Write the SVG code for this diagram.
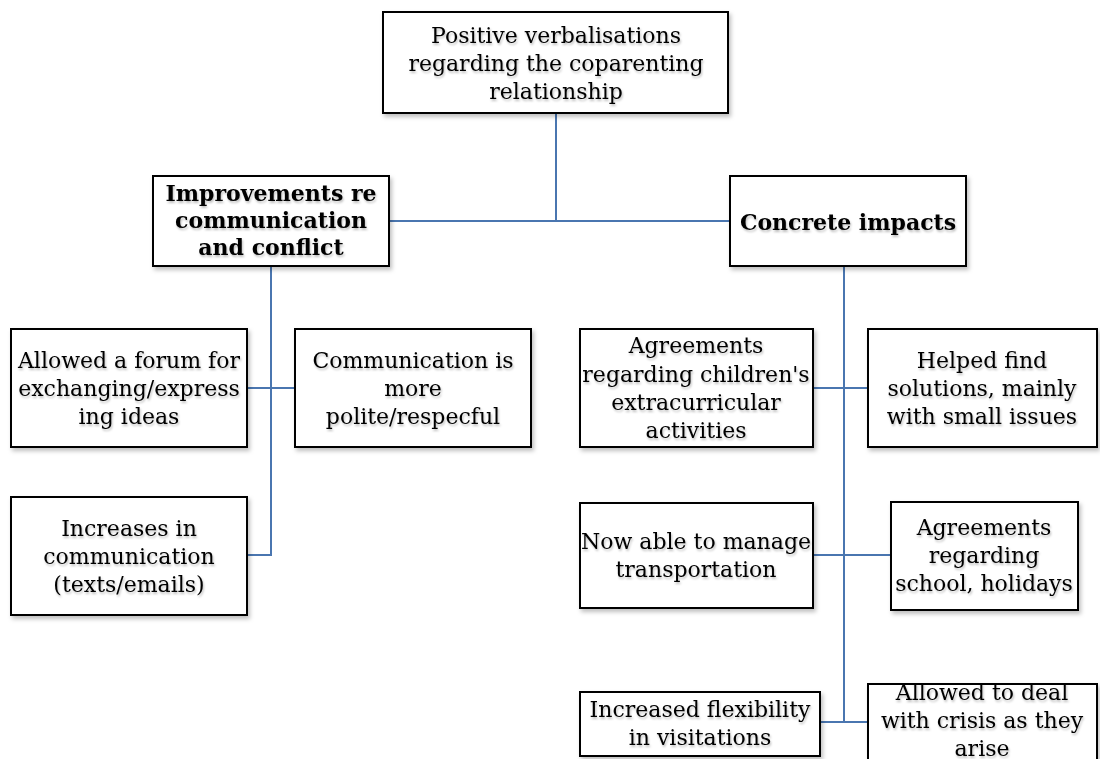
<svg xmlns="http://www.w3.org/2000/svg" width="1100" height="759" viewBox="0 0 1100 759">
<defs>
<filter id="bs" x="-10%" y="-10%" width="130%" height="130%"><feDropShadow dx="2" dy="3" stdDeviation="2" flood-color="#000" flood-opacity="0.25"/></filter>
<filter id="ts" x="-5%" y="-20%" width="115%" height="160%"><feDropShadow dx="1" dy="2" stdDeviation="1.2" flood-color="#000" flood-opacity="0.25"/></filter>
</defs>
<style>
.box{fill:#fff;stroke:#000;stroke-width:2;filter:url(#bs)}
.t{font-family:"DejaVu Serif","Liberation Serif",serif;font-size:22px;fill:#000;text-anchor:middle;filter:url(#ts)}
.b{font-weight:bold}
.c{fill:none;stroke:#4a76b0;stroke-width:2}
</style>
<rect width="1100" height="759" fill="#fff"/>
<g id="connectors">
<path class="c" d="M556 113V221M389 221H730"/>
<path class="c" d="M271 266V555H247M247 388H295"/>
<path class="c" d="M844 266V722M813 388H868M813 555H891M820 722H868"/>
</g>
<g id="n-root"><rect class="box" x="383" y="12" width="345" height="101"/>
<text class="t" x="556" y="43">Positive verbalisations</text><text class="t" x="556" y="71">regarding the coparenting</text><text class="t" x="556" y="99">relationship</text></g>
<g id="n-improve"><rect class="box" x="153" y="176" width="236" height="90"/>
<text class="t b" x="271" y="201">Improvements re</text><text class="t b" x="271" y="228">communication</text><text class="t b" x="271" y="255">and conflict</text></g>
<g id="n-concrete"><rect class="box" x="730" y="176" width="236" height="90"/>
<text class="t b" x="848" y="230">Concrete impacts</text></g>
<g id="n-forum"><rect class="box" x="11" y="329" width="236" height="118"/>
<text class="t" x="129" y="368">Allowed a forum for</text><text class="t" x="129" y="396">exchanging/express</text><text class="t" x="129" y="424">ing ideas</text></g>
<g id="n-polite"><rect class="box" x="295" y="329" width="236" height="118"/>
<text class="t" x="413" y="368">Communication is</text><text class="t" x="413" y="396">more</text><text class="t" x="413" y="424">polite/respecful</text></g>
<g id="n-increases"><rect class="box" x="11" y="497" width="236" height="118"/>
<text class="t" x="129" y="536">Increases in</text><text class="t" x="129" y="564">communication</text><text class="t" x="129" y="592">(texts/emails)</text></g>
<g id="n-extra"><rect class="box" x="580" y="329" width="233" height="118"/>
<text class="t" x="696" y="353">Agreements</text><text class="t" x="696" y="382">regarding children's</text><text class="t" x="696" y="410">extracurricular</text><text class="t" x="696" y="438">activities</text></g>
<g id="n-helped"><rect class="box" x="868" y="329" width="229" height="118"/>
<text class="t" x="982" y="368">Helped find</text><text class="t" x="982" y="396">solutions, mainly</text><text class="t" x="982" y="424">with small issues</text></g>
<g id="n-transport"><rect class="box" x="580" y="503" width="233" height="105"/>
<text class="t" x="696" y="549">Now able to manage</text><text class="t" x="696" y="577">transportation</text></g>
<g id="n-school"><rect class="box" x="891" y="502" width="187" height="108"/>
<text class="t" x="984" y="535">Agreements</text><text class="t" x="984" y="563">regarding</text><text class="t" x="984" y="591">school, holidays</text></g>
<g id="n-flex"><rect class="box" x="580" y="692" width="240" height="64"/>
<text class="t" x="700" y="717">Increased flexibility</text><text class="t" x="700" y="745">in visitations</text></g>
<g id="n-crisis"><rect class="box" x="868" y="684" width="229" height="90"/>
<text class="t" x="982" y="700">Allowed to deal</text><text class="t" x="982" y="728">with crisis as they</text><text class="t" x="982" y="756">arise</text></g>
</svg>
